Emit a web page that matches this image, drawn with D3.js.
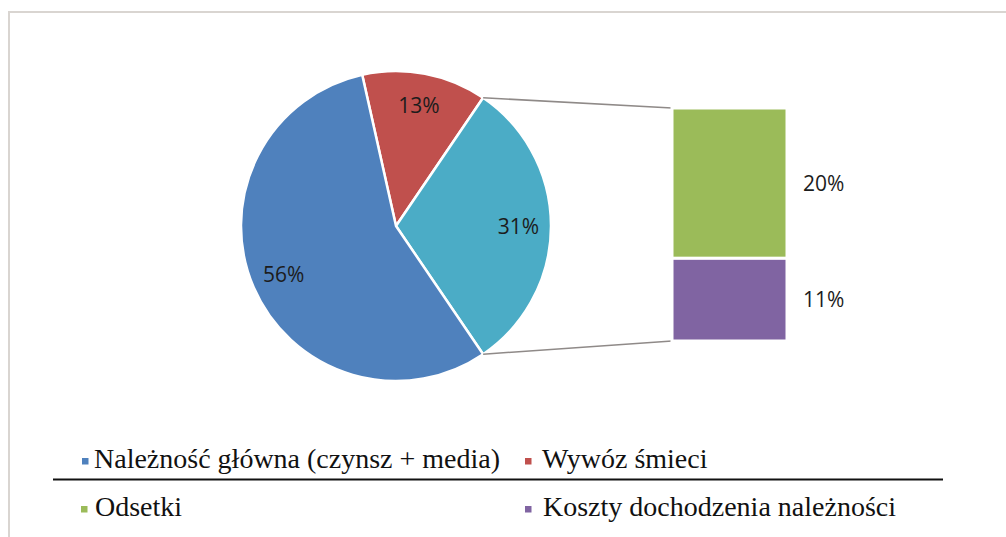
<!DOCTYPE html>
<html>
<head>
<meta charset="utf-8">
<script src="https://cdn.jsdelivr.net/npm/d3@7"></script>
<style>
  html, body { margin: 0; padding: 0; background: #fff; }
  svg { display: block; }
</style>
</head>
<body>
<svg id="chart" width="1006" height="537"></svg>
<script>
// ---- data ----
const pieCategories = ["Wywóz śmieci", "Inne (odsetki + koszty)", "Należność główna (czynsz + media)"];
const pieValues = [13, 31, 56];
const pieColors = ["#C0504D", "#4BACC6", "#4F81BD"];

const barCategories = ["Odsetki", "Koszty dochodzenia należności"];
const barValues = [20, 11];
const barColors = ["#9BBB59", "#8064A2"];

const legendRow1 = ["Należność główna (czynsz + media)", "Wywóz śmieci"];
const legendRow1Colors = ["#4F81BD", "#C0504D"];
const legendRow2 = ["Odsetki", "Koszty dochodzenia należności"];
const legendRow2Colors = ["#9BBB59", "#8064A2"];

// ---- layout ----
const svg = d3.select("#chart");
const cx = 396, cy = 226, R = 155;

// frame
svg.append("path")
  .attr("d", "M9,537 L9,12 L1006,12")
  .attr("fill", "none").attr("stroke", "#d9d5d1").attr("stroke-width", 2);

// pie: secondary slice (index 1) centered on the right (90deg)
const total = d3.sum(pieValues);
const secFrac = pieValues[1] / total, beforeFrac = pieValues[0] / total;
const startA = Math.PI / 2 - secFrac * Math.PI - beforeFrac * 2 * Math.PI;
const pie = d3.pie().sort(null).startAngle(startA).endAngle(startA + 2 * Math.PI);
const arcs = pie(pieValues);
const arc = d3.arc().innerRadius(0).outerRadius(R);
const labelArc = d3.arc().innerRadius(R * 0.79).outerRadius(R * 0.79);

const g = svg.append("g").attr("transform", `translate(${cx},${cy})`);
g.selectAll("path.slice").data(arcs).enter().append("path")
  .attr("class", "slice")
  .attr("d", arc)
  .attr("fill", (d, i) => pieColors[i])
  .attr("stroke", "#fff").attr("stroke-width", 2.5).attr("stroke-linejoin", "round");

g.selectAll("text.pl").data(arcs).enter().append("text")
  .attr("class", "pl")
  .attr("transform", d => `translate(${labelArc.centroid(d)})`)
  .attr("text-anchor", "middle").attr("dy", "0.36em")
  .style("font-family", "'Open Sans', sans-serif").style("font-size", "21px").style("fill", "#1c1c1c")
  .text(d => Math.round(d.value / total * 100) + "%");

// bar of pie
const barX = 672, barW = 115;
const y = d3.scaleLinear().domain([0, d3.sum(barValues)]).range([108, 341]);
let acc = 0;
const stack = barValues.map((v, i) => { const s = { v, i, y0: acc, y1: acc + v }; acc += v; return s; });

// connector lines
const sec = arcs[1];
const p1 = [cx + R * Math.sin(sec.startAngle), cy - R * Math.cos(sec.startAngle)];
const p2 = [cx + R * Math.sin(sec.endAngle), cy - R * Math.cos(sec.endAngle)];
svg.append("line").attr("x1", p1[0]).attr("y1", p1[1]).attr("x2", barX).attr("y2", y(0))
  .attr("stroke", "#8f8a88").attr("stroke-width", 1.6);
svg.append("line").attr("x1", p2[0]).attr("y1", p2[1]).attr("x2", barX).attr("y2", y(d3.sum(barValues)))
  .attr("stroke", "#8f8a88").attr("stroke-width", 1.6);

svg.selectAll("rect.bar").data(stack).enter().append("rect")
  .attr("class", "bar")
  .attr("x", barX).attr("width", barW)
  .attr("y", d => y(d.y0)).attr("height", d => y(d.y1) - y(d.y0))
  .attr("fill", d => barColors[d.i])
  .attr("stroke", "#fff").attr("stroke-width", 3);

svg.selectAll("text.bl").data(stack).enter().append("text")
  .attr("class", "bl")
  .attr("x", barX + barW + 16)
  .attr("y", d => (y(d.y0) + y(d.y1)) / 2)
  .attr("dy", "0.36em")
  .style("font-family", "'Open Sans', sans-serif").style("font-size", "21px").style("fill", "#1c1c1c")
  .text(d => d.v + "%");

// legend
const legend = svg.append("g").style("font-family", "'Liberation Serif', 'Times New Roman', serif").style("font-size", "28px");
function legendRow(items, colors, baseY, markerXs, textXs) {
  items.forEach((t, i) => {
    legend.append("rect").attr("x", markerXs[i]).attr("y", baseY - 10).attr("width", 6.5).attr("height", 6.5).attr("fill", colors[i]);
    legend.append("text").attr("x", textXs[i]).attr("y", baseY).attr("fill", "#111").text(t);
  });
}
legendRow(legendRow1, legendRow1Colors, 468, [82, 525], [94, 542]);
legendRow(legendRow2, legendRow2Colors, 516, [81, 525], [95, 543]);
svg.append("line").attr("x1", 53).attr("x2", 943).attr("y1", 479.5).attr("y2", 479.5)
  .attr("stroke", "#111").attr("stroke-width", 2.2);
</script>
</body>
</html>
